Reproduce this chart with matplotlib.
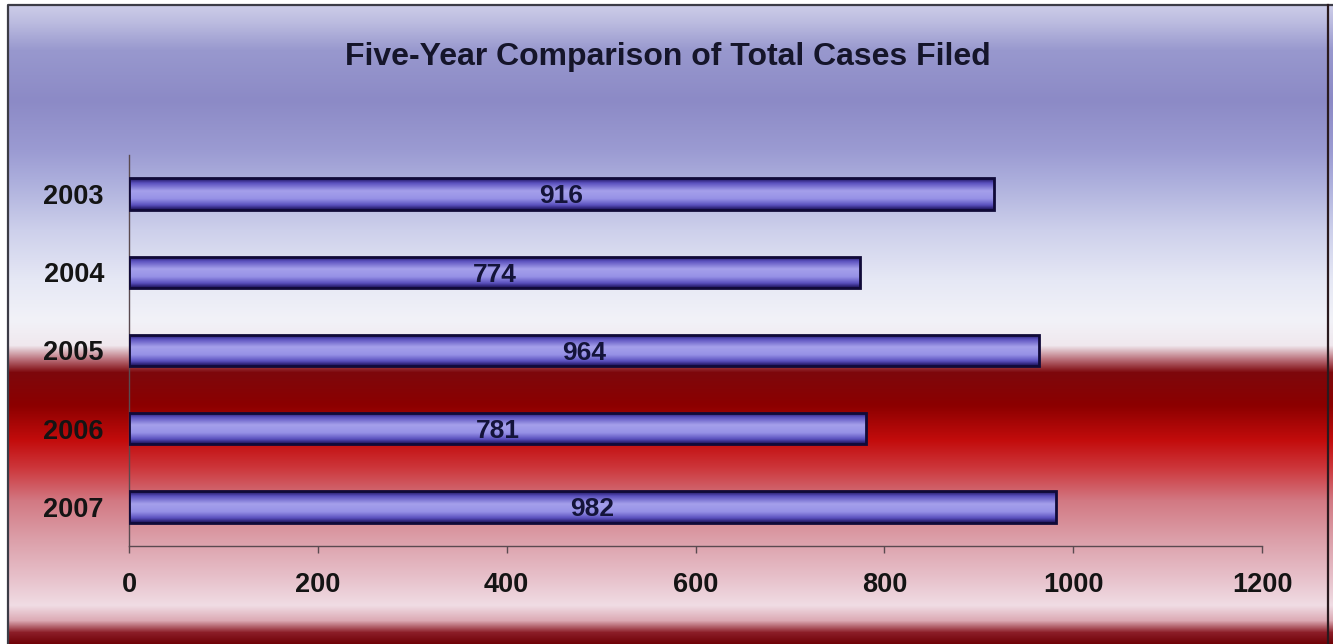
import numpy as np
import matplotlib
matplotlib.use('Agg')
import matplotlib.pyplot as plt

years = ['2003', '2004', '2005', '2006', '2007']
cases = [916, 774, 964, 781, 982]
xticks = [0, 200, 400, 600, 800, 1000, 1200]
title = 'Five-Year Comparison of Total Cases Filed'

plt.rcParams['font.family'] = ['Liberation Sans', 'DejaVu Sans']

W, H = 1333, 644
fig = plt.figure(figsize=(W / 100, H / 100), dpi=100)

# ---- background gradient ----
stops = [
    (0, (210, 210, 235)), (20, (190, 190, 225)), (50, (152, 152, 206)),
    (100, (140, 138, 198)), (150, (155, 155, 210)), (180, (172, 174, 220)),
    (230, (205, 208, 235)), (280, (230, 232, 245)), (320, (242, 242, 248)),
    (345, (240, 232, 238)), (358, (190, 120, 130)), (372, (125, 8, 12)),
    (405, (140, 0, 0)), (440, (195, 12, 12)), (468, (205, 55, 60)),
    (500, (210, 120, 130)), (540, (220, 160, 170)), (580, (232, 195, 205)),
    (605, (240, 220, 228)), (620, (220, 170, 180)), (632, (140, 30, 40)),
    (644, (110, 0, 5)),
]
ys = np.arange(H)
sy = [s[0] for s in stops]
cols = np.stack([np.interp(ys, sy, [s[1][c] for s in stops]) for c in range(3)], axis=1) / 255.0
img = np.repeat(cols[:, None, :], W, axis=1)
img[:5, :, :] = 1.0
img[:, :8, :] = 1.0
bg = fig.add_axes([0, 0, 1, 1])
bg.axis('off')
bg.imshow(img, aspect='auto', extent=[0, 1, 0, 1], origin='upper', interpolation='bilinear')
bg.set_xlim(0, 1)
bg.set_ylim(0, 1)
# frame
bg.plot([8 / W, 8 / W, 1], [0, 1 - 5 / H, 1 - 5 / H], color='#3c3c46', lw=1.6)
bg.plot([1328 / W, 1328 / W], [0, 1 - 5 / H], color='#2a1a1e', lw=1.6)

fig.text(0.501, 1 - 57 / H, title, ha='center', va='center', fontsize=23,
         fontweight='bold', color='#15152a')

# ---- main axes ----
ax = fig.add_axes([129 / W, 1 - 546 / H, (1262 - 129) / W, (546 - 155) / H])
ax.patch.set_alpha(0)

bh = 0.4
grad_stops = [(0.0, (25, 15, 85)), (0.15, (90, 80, 190)), (0.4, (165, 160, 235)),
              (0.65, (150, 145, 230)), (0.85, (90, 80, 190)), (1.0, (25, 15, 85))]
gy = np.linspace(0, 1, 64)
gcol = np.stack([np.interp(gy, [g[0] for g in grad_stops], [g[1][c] for g in grad_stops]) for c in range(3)], axis=1) / 255.0
gimg = gcol[:, None, :]

pos = np.arange(len(years))
bars = ax.barh(pos, cases, height=bh, facecolor='none', edgecolor='#100a38', linewidth=2.0, zorder=3)
for i, (b, v) in enumerate(zip(bars, cases)):
    im = ax.imshow(gimg, extent=[0, v, i + bh / 2, i - bh / 2], aspect='auto',
                   origin='upper', interpolation='bilinear', zorder=2)
    im.set_clip_path(b)
    ax.text(v / 2, i + 0.03, str(v), ha='center', va='center', fontsize=19,
            fontweight='bold', color='#14143a', zorder=4)

ax.set_xlim(0, 1200)
ax.set_ylim(len(years) - 0.5, -0.5)
ax.set_aspect('auto')
ax.set_yticks(pos)
ax.set_yticklabels(years, fontsize=19.5, fontweight='bold', color='#141414')
ax.set_xticks(xticks)
ax.set_xticklabels([str(t) for t in xticks], fontsize=19.5, fontweight='bold', color='#141414')
ax.tick_params(axis='y', length=0, pad=18)
ax.tick_params(axis='x', length=5, width=1, color='#5a4a50', direction='out', pad=14)
for s in ['top', 'right']:
    ax.spines[s].set_visible(False)
for s in ['left', 'bottom']:
    ax.spines[s].set_color('#5a4a50')
    ax.spines[s].set_linewidth(1.0)

fig.savefig('out.png', dpi=100)
